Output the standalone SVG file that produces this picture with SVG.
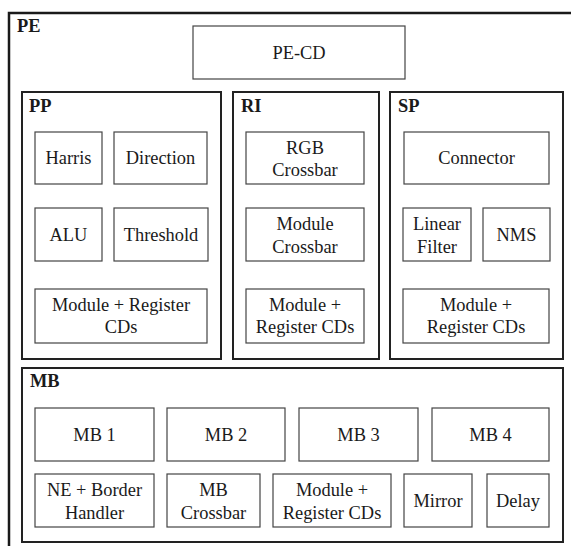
<svg xmlns="http://www.w3.org/2000/svg" width="571" height="546" viewBox="0 0 571 546">
<style>
.outer{fill:none;stroke:#1a1a1a;stroke-width:2.5}
.cont{fill:none;stroke:#222;stroke-width:2}
.box{fill:#fff;stroke:#444;stroke-width:1.2}
</style>
<rect width="571" height="546" fill="#fff"/>
<g id="PE">
<path class="outer" d="M9,546 V13 H571"/>
<text x="17" y="31.5" font-family="Liberation Serif" font-size="18.4" font-weight="bold" fill="#1a1a1a">PE</text>
</g>
<g font-family="Liberation Serif" font-size="18.4" fill="#1a1a1a" text-anchor="middle">
<g id="PE-CD"><rect class="box" x="193" y="26" width="212" height="53"/><text x="299" y="58.5" font-family="Liberation Serif">PE-CD</text></g>

<g id="PP"><rect class="cont" x="22" y="92" width="199" height="267"/><text x="29" y="111.5" font-family="Liberation Serif" font-weight="bold" text-anchor="start">PP</text></g>
<g id="Harris"><rect class="box" x="35" y="132" width="67" height="52"/><text x="68.5" y="164.3" font-family="Liberation Serif">Harris</text></g>
<g id="Direction"><rect class="box" x="114" y="132" width="93" height="52"/><text x="160.5" y="164.3" font-family="Liberation Serif">Direction</text></g>
<g id="ALU"><rect class="box" x="35" y="208" width="67" height="53"/><text x="68.5" y="240.8" font-family="Liberation Serif">ALU</text></g>
<g id="Threshold"><rect class="box" x="114" y="208" width="94" height="53"/><text x="161" y="240.8" font-family="Liberation Serif">Threshold</text></g>
<g id="PP-CDs"><rect class="box" x="35" y="289" width="172" height="54"/><text x="121" y="310.5" font-family="Liberation Serif">Module + Register</text><text x="121" y="333" font-family="Liberation Serif">CDs</text></g>

<g id="RI"><rect class="cont" x="233" y="92" width="146" height="267"/><text x="241" y="111.5" font-family="Liberation Serif" font-weight="bold" text-anchor="start">RI</text></g>
<g id="RGB-Crossbar"><rect class="box" x="246" y="132" width="118" height="52"/><text x="305" y="153.5" font-family="Liberation Serif">RGB</text><text x="305" y="176" font-family="Liberation Serif">Crossbar</text></g>
<g id="Module-Crossbar"><rect class="box" x="246" y="208" width="118" height="53"/><text x="305" y="230" font-family="Liberation Serif">Module</text><text x="305" y="252.5" font-family="Liberation Serif">Crossbar</text></g>
<g id="RI-CDs"><rect class="box" x="246" y="289" width="118" height="54"/><text x="305" y="310.5" font-family="Liberation Serif">Module +</text><text x="305" y="333" font-family="Liberation Serif">Register CDs</text></g>

<g id="SP"><rect class="cont" x="390" y="92" width="173" height="267"/><text x="398" y="111.5" font-family="Liberation Serif" font-weight="bold" text-anchor="start">SP</text></g>
<g id="Connector"><rect class="box" x="404" y="132" width="145" height="52"/><text x="476.5" y="164.3" font-family="Liberation Serif">Connector</text></g>
<g id="Linear-Filter"><rect class="box" x="403" y="208" width="68" height="53"/><text x="437" y="230" font-family="Liberation Serif">Linear</text><text x="437" y="252.5" font-family="Liberation Serif">Filter</text></g>
<g id="NMS"><rect class="box" x="483" y="208" width="67" height="53"/><text x="516.5" y="240.8" font-family="Liberation Serif">NMS</text></g>
<g id="SP-CDs"><rect class="box" x="403" y="289" width="146" height="54"/><text x="476" y="310.5" font-family="Liberation Serif">Module +</text><text x="476" y="333" font-family="Liberation Serif">Register CDs</text></g>

<g id="MB"><rect class="cont" x="22" y="368" width="541" height="174"/><text x="30" y="387" font-family="Liberation Serif" font-weight="bold" text-anchor="start">MB</text></g>
<g id="MB1"><rect class="box" x="35" y="408" width="119" height="53"/><text x="94.5" y="440.8" font-family="Liberation Serif">MB 1</text></g>
<g id="MB2"><rect class="box" x="167" y="408" width="118" height="53"/><text x="226" y="440.8" font-family="Liberation Serif">MB 2</text></g>
<g id="MB3"><rect class="box" x="299" y="408" width="119" height="53"/><text x="358.5" y="440.8" font-family="Liberation Serif">MB 3</text></g>
<g id="MB4"><rect class="box" x="432" y="408" width="117" height="53"/><text x="490.5" y="440.8" font-family="Liberation Serif">MB 4</text></g>
<g id="NE-Border"><rect class="box" x="35" y="474" width="119" height="53"/><text x="94.5" y="496" font-family="Liberation Serif">NE + Border</text><text x="94.5" y="518.5" font-family="Liberation Serif">Handler</text></g>
<g id="MB-Crossbar"><rect class="box" x="167" y="474" width="93" height="53"/><text x="213.5" y="496" font-family="Liberation Serif">MB</text><text x="213.5" y="518.5" font-family="Liberation Serif">Crossbar</text></g>
<g id="MB-CDs"><rect class="box" x="273" y="474" width="118" height="53"/><text x="332" y="496" font-family="Liberation Serif">Module +</text><text x="332" y="518.5" font-family="Liberation Serif">Register CDs</text></g>
<g id="Mirror"><rect class="box" x="404" y="474" width="68" height="53"/><text x="438" y="506.8" font-family="Liberation Serif">Mirror</text></g>
<g id="Delay"><rect class="box" x="487" y="474" width="62" height="53"/><text x="518" y="506.8" font-family="Liberation Serif">Delay</text></g>
</g>
<g id="connectors"/>
</svg>
